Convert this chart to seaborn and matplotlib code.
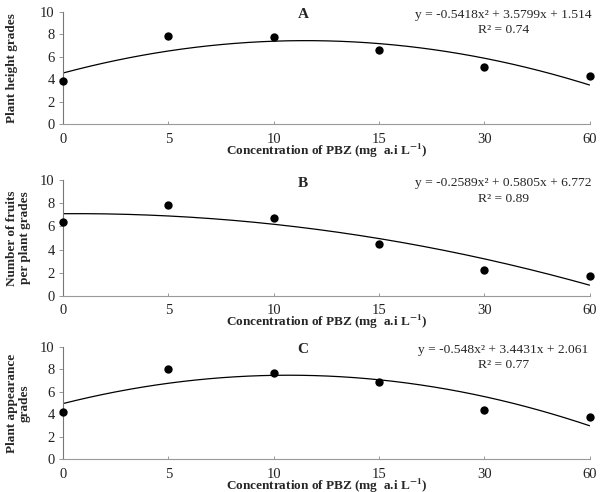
import numpy as np
import pandas as pd
import seaborn as sns
import matplotlib.pyplot as plt

sns.set_style('white')
plt.rcParams['font.family'] = ['Liberation Serif', 'DejaVu Serif']
plt.rcParams['mathtext.fontset'] = 'stix'

doses = ['0', '5', '10', '15', '30', '60']

height_grades = [3.8, 7.85, 7.75, 6.6, 5.1, 4.25]
fruit_grades = [6.4, 7.85, 6.7, 4.5, 2.2, 1.7]
appearance_grades = [4.2, 8.0, 7.7, 6.9, 4.35, 3.8]

coef_a = [-0.5418, 3.5799, 1.514]
coef_b = [-0.2589, 0.5805, 6.772]
coef_c = [-0.548, 3.4431, 2.061]

panels = [
    ('A', 'Plant height grades', height_grades, coef_a,
     'y = -0.5418x² + 3.5799x + 1.514', 'R² = 0.74', -0.085),
    ('B', 'Number of fruits\nper plant grades', fruit_grades, coef_b,
     'y = -0.2589x² + 0.5805x + 6.772', 'R² = 0.89', -0.061),
    ('C', 'Plant appearance\ngrades', appearance_grades, coef_c,
     'y = -0.548x² + 3.4431x + 2.061', 'R² = 0.77', -0.061),
]

# axes boxes in figure fraction [left, bottom, width, height]
boxes = [
    [0.1047, 0.7474, 0.8746, 0.2289],
    [0.1047, 0.3984, 0.8746, 0.2358],
    [0.1047, 0.0661, 0.8746, 0.2293],
]

fig = plt.figure(figsize=(6.02, 4.92), dpi=100)

for (letter, ylab, vals, coef, eq, r2, ylx), box in zip(panels, boxes):
    ax = fig.add_axes(box)
    pos = np.arange(1, len(doses) + 1)
    df = pd.DataFrame({'x': pos, 'y': vals})
    xs = np.linspace(1, len(doses), 200)
    curve = pd.DataFrame({'x': xs, 'y': np.polyval(coef, xs)})

    sns.lineplot(data=curve, x='x', y='y', ax=ax, color='black', lw=0.9)
    sns.scatterplot(data=df, x='x', y='y', ax=ax, color='black', s=36,
                    edgecolor='black', linewidth=0, clip_on=False, zorder=3)

    ax.set_xlim(1, len(doses))
    ax.set_ylim(0, 10)
    ax.set_xticks(pos)
    ax.set_xticklabels(doses)
    ax.set_yticks(range(0, 11, 2))
    ax.tick_params(axis='both', labelsize=10.5, width=0.6, color='#888888',
                   left=True, bottom=True, labelcolor='#222222')
    ax.tick_params(axis='x', direction='in', length=2.5, pad=6)
    ax.tick_params(axis='y', direction='out', length=3, pad=3)

    for s in ['top', 'right']:
        ax.spines[s].set_visible(False)
    ax.spines['left'].set_color('#777777')
    ax.spines['left'].set_linestyle((0, (1, 1)))
    ax.spines['left'].set_linewidth(0.8)
    ax.spines['bottom'].set_color('#999999')
    ax.spines['bottom'].set_linewidth(0.8)

    ax.set_xlabel(r'Concentration of PBZ (mg  a.i L$^{\mathbf{-1}}$)',
                  fontsize=9.5, fontweight='bold', labelpad=-3)
    ax.set_ylabel(ylab, fontsize=9.5, fontweight='bold', linespacing=1.1)
    ax.yaxis.set_label_coords(ylx, 0.5)

    ax.text(0.456, 0.971, letter, transform=ax.transAxes, ha='center',
            va='center', fontsize=11, fontweight='bold')
    ax.text(0.836, 0.971, eq, transform=ax.transAxes, ha='center',
            va='center', fontsize=9.7)
    ax.text(0.836, 0.837, r2, transform=ax.transAxes, ha='center',
            va='center', fontsize=9.7)

fig.savefig('out.png', dpi=100)
